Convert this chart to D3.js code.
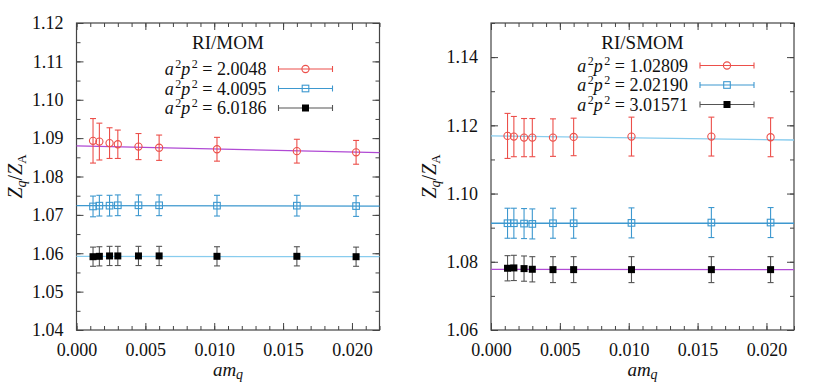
<!DOCTYPE html>
<html>
<head>
<meta charset="utf-8">
<script src="https://cdn.jsdelivr.net/npm/d3@7"></script>
<style>
  body { margin: 0; background: #fff; }
</style>
</head>
<body>
<div id="chart-area"></div>
<script>
// quark masses (shared by both panels)
var amq = [0.0012, 0.00166, 0.0024, 0.003, 0.0045, 0.006, 0.0102, 0.016, 0.0203];

// RI/MOM
var momLabels = ["2.0048", "4.0095", "6.0186"];
var momRed = [1.0893, 1.0891, 1.0887, 1.0884, 1.0878, 1.0875, 1.0871, 1.0866, 1.0863];
var momRedErr = [0.0058, 0.0048, 0.0040, 0.0037, 0.0034, 0.0033, 0.0031, 0.0031, 0.0031];
var momBlue = [1.0722, 1.0724, 1.0724, 1.0725, 1.0725, 1.0725, 1.0724, 1.0724, 1.0723];
var momBlueErr = [0.0027, 0.0027, 0.0027, 0.0027, 0.0027, 0.0027, 0.0027, 0.0027, 0.0027];
var momBlack = [1.0591, 1.0592, 1.0593, 1.0593, 1.0593, 1.0593, 1.0592, 1.0592, 1.0591];
var momBlackErr = [0.0025, 0.0025, 0.0025, 0.0025, 0.0025, 0.0025, 0.0025, 0.0025, 0.0025];
var momFits = [[1.0880, 1.0862], [1.0724, 1.0723], [1.0592, 1.0591]];
var momYTicks = [1.04, 1.05, 1.06, 1.07, 1.08, 1.09, 1.10, 1.11, 1.12];

// RI/SMOM
var smomLabels = ["1.02809", "2.02190", "3.01571"];
var smomRed = [1.1169, 1.1167, 1.1164, 1.1164, 1.1164, 1.1166, 1.1167, 1.1167, 1.1165];
var smomRedErr = [0.0066, 0.0059, 0.0056, 0.0056, 0.0055, 0.0055, 0.0057, 0.0057, 0.0057];
var smomBlue = [1.0913, 1.0913, 1.0912, 1.0911, 1.0913, 1.0913, 1.0914, 1.0915, 1.0915];
var smomBlueErr = [0.0044, 0.0044, 0.0044, 0.0044, 0.0044, 0.0044, 0.0044, 0.0044, 0.0044];
var smomBlack = [1.0781, 1.0782, 1.0780, 1.0778, 1.0777, 1.0777, 1.0777, 1.0777, 1.0777];
var smomBlackErr = [0.0037, 0.0037, 0.0037, 0.0037, 0.0038, 0.0038, 0.0038, 0.0038, 0.0038];
var smomFits = [[1.1169, 1.1157], [1.0913, 1.0913], [1.0778, 1.0777]];
var smomYTicks = [1.06, 1.08, 1.10, 1.12, 1.14];

var xTicks = [0, 0.005, 0.010, 0.015, 0.020];

var RED = "#ec4f4a", BLUE = "#3d98cf", GRAY = "#555";
var PURPLE = "#b04ad4", LIGHTBLUE = "#88ccee";
var SERIF = "'Liberation Serif', 'Times New Roman', 'DejaVu Serif', serif";

var svg = d3.select("#chart-area").append("svg")
  .attr("width", 830).attr("height", 383);

function drawPanel(p) {
  var left = p.left, right = p.left + 303, top = 23, bottom = 330;
  var x = d3.scaleLinear().domain([0, 0.022]).range([left, right]);
  var y = d3.scaleLinear().domain(p.yDomain).range([bottom, top]);
  var g = svg.append("g");

  // minor ticks
  var xMinor = d3.range(0, 0.0221, 0.001);
  var yMinor = d3.range(p.yDomain[0], p.yDomain[1] + 1e-9, p.yMinorStep);
  g.append("g").attr("transform", "translate(0," + bottom + ")")
    .call(d3.axisBottom(x).tickValues(xMinor).tickSize(-4).tickFormat(""));
  g.append("g").attr("transform", "translate(0," + top + ")")
    .call(d3.axisTop(x).tickValues(xMinor).tickSize(-4).tickFormat(""));
  g.append("g").attr("transform", "translate(" + left + ",0)")
    .call(d3.axisLeft(y).tickValues(yMinor).tickSize(-4).tickFormat(""));
  g.append("g").attr("transform", "translate(" + right + ",0)")
    .call(d3.axisRight(y).tickValues(yMinor).tickSize(-4).tickFormat(""));

  // major ticks
  g.append("g").attr("transform", "translate(0," + bottom + ")")
    .call(d3.axisBottom(x).tickValues(xTicks).tickSize(-7).tickPadding(13)
      .tickFormat(d3.format(".3f")));
  g.append("g").attr("transform", "translate(0," + top + ")")
    .call(d3.axisTop(x).tickValues(xTicks).tickSize(-7).tickFormat(""));
  g.append("g").attr("transform", "translate(" + left + ",0)")
    .call(d3.axisLeft(y).tickValues(p.yTicks).tickSize(-7).tickPadding(13)
      .tickFormat(d3.format(".2f")));
  g.append("g").attr("transform", "translate(" + right + ",0)")
    .call(d3.axisRight(y).tickValues(p.yTicks).tickSize(-7).tickFormat(""));

  g.selectAll(".domain").remove();
  g.selectAll(".tick line").attr("stroke", "#444");
  g.selectAll(".tick text").attr("font-size", 18).attr("fill", "#111");

  g.append("rect")
    .attr("x", left).attr("y", top)
    .attr("width", right - left).attr("height", bottom - top)
    .attr("fill", "none").attr("stroke", "#444").attr("stroke-width", 1.2);

  // fit lines
  p.fits.forEach(function (f, i) {
    g.append("line")
      .attr("x1", x(0)).attr("x2", x(0.022))
      .attr("y1", y(f[0])).attr("y2", y(f[1]))
      .attr("stroke", p.fitColors[i]).attr("stroke-width", 1.3);
  });

  // series
  p.series.forEach(function (s) {
    var pts = amq.map(function (a, i) { return { x: a, y: s.vals[i], e: s.errs[i] }; });
    var sg = g.append("g");
    var bars = sg.selectAll("g.bar").data(pts).enter().append("g").attr("class", "bar");
    bars.append("line")
      .attr("x1", d => x(d.x)).attr("x2", d => x(d.x))
      .attr("y1", d => y(d.y - d.e)).attr("y2", d => y(d.y + d.e))
      .attr("stroke", s.barColor).attr("stroke-width", 1.1);
    [-1, 1].forEach(function (sgn) {
      bars.append("line")
        .attr("x1", d => x(d.x) - 3).attr("x2", d => x(d.x) + 3)
        .attr("y1", d => y(d.y + sgn * d.e)).attr("y2", d => y(d.y + sgn * d.e))
        .attr("stroke", s.barColor).attr("stroke-width", 1.1);
    });
    drawMarkers(sg, pts.map(d => [x(d.x), y(d.y)]), s);
  });

  // legend
  g.append("text")
    .attr("x", (left + right) / 2).attr("y", 49)
    .attr("text-anchor", "middle").attr("font-size", 19).attr("fill", "#111")
    .text(p.title);
  p.series.forEach(function (s, i) {
    var ly = p.legendY[i];
    var t = g.append("text")
      .attr("x", left + p.legendTextX).attr("y", ly + 6)
      .attr("text-anchor", "end").attr("font-size", 18).attr("fill", "#111");
    t.append("tspan").attr("font-style", "italic").text("a");
    t.append("tspan").attr("font-size", 12).attr("dx", 1.5).attr("dy", -7).text("2");
    t.append("tspan").attr("font-style", "italic").attr("dy", 7).text("p");
    t.append("tspan").attr("font-size", 12).attr("dx", 1.5).attr("dy", -7).text("2");
    t.append("tspan").attr("dy", 7).text(" = " + p.labels[i]);

    var x1 = left + p.legendTextX + 12, x2 = x1 + 54;
    g.append("line").attr("x1", x1).attr("x2", x2).attr("y1", ly).attr("y2", ly)
      .attr("stroke", s.barColor).attr("stroke-width", 1.1);
    [x1, x2].forEach(function (xx) {
      g.append("line").attr("x1", xx).attr("x2", xx).attr("y1", ly - 3).attr("y2", ly + 3)
        .attr("stroke", s.barColor).attr("stroke-width", 1.1);
    });
    drawMarkers(g, [[(x1 + x2) / 2, ly]], s);
  });

  // axis labels
  var xl = g.append("text")
    .attr("x", (left + right) / 2).attr("y", 376)
    .attr("text-anchor", "middle").attr("font-size", 19).attr("fill", "#111");
  xl.append("tspan").attr("font-style", "italic").text("am");
  xl.append("tspan").attr("font-style", "italic").attr("font-size", 14).attr("dy", 3).text("q");

  var yl = g.append("text")
    .attr("transform", "translate(" + (left - 55) + "," + ((top + bottom) / 2) + ") rotate(-90)")
    .attr("text-anchor", "middle").attr("font-size", 20).attr("fill", "#111");
  yl.append("tspan").attr("font-style", "italic").text("Z");
  yl.append("tspan").attr("font-style", "italic").attr("font-size", 14).attr("dy", 4).text("q");
  yl.append("tspan").attr("dy", -4).text("/");
  yl.append("tspan").attr("font-style", "italic").text("Z");
  yl.append("tspan").attr("font-size", 13).attr("dy", 4).text("A");

  g.selectAll("text").style("font-family", SERIF);
}

function drawMarkers(sel, pts, s) {
  pts.forEach(function (pt) {
    if (s.marker === "circle") {
      sel.append("circle").attr("cx", pt[0]).attr("cy", pt[1]).attr("r", 3.6)
        .attr("fill", "none").attr("stroke", s.markColor).attr("stroke-width", 1.1);
    } else if (s.marker === "square") {
      sel.append("rect").attr("x", pt[0] - 3.3).attr("y", pt[1] - 3.3)
        .attr("width", 6.6).attr("height", 6.6)
        .attr("fill", "none").attr("stroke", s.markColor).attr("stroke-width", 1.1);
    } else {
      sel.append("rect").attr("x", pt[0] - 3.5).attr("y", pt[1] - 3.5)
        .attr("width", 7).attr("height", 7).attr("fill", s.markColor);
    }
  });
}

drawPanel({
  left: 76.5, title: "RI/MOM", labels: momLabels,
  yDomain: [1.04, 1.12], yTicks: momYTicks, yMinorStep: 0.005,
  fits: momFits, fitColors: [PURPLE, BLUE, LIGHTBLUE],
  legendTextX: 190, legendY: [69, 88.5, 108],
  series: [
    { vals: momRed, errs: momRedErr, marker: "circle", markColor: RED, barColor: RED },
    { vals: momBlue, errs: momBlueErr, marker: "square", markColor: BLUE, barColor: BLUE },
    { vals: momBlack, errs: momBlackErr, marker: "filled", markColor: "#000", barColor: GRAY }
  ]
});

drawPanel({
  left: 491, title: "RI/SMOM", labels: smomLabels,
  yDomain: [1.06, 1.15], yTicks: smomYTicks, yMinorStep: 0.01,
  fits: smomFits, fitColors: [LIGHTBLUE, BLUE, PURPLE],
  legendTextX: 197, legendY: [65.5, 85, 104.5],
  series: [
    { vals: smomRed, errs: smomRedErr, marker: "circle", markColor: RED, barColor: RED },
    { vals: smomBlue, errs: smomBlueErr, marker: "square", markColor: BLUE, barColor: BLUE },
    { vals: smomBlack, errs: smomBlackErr, marker: "filled", markColor: "#000", barColor: GRAY }
  ]
});
</script>
</body>
</html>
